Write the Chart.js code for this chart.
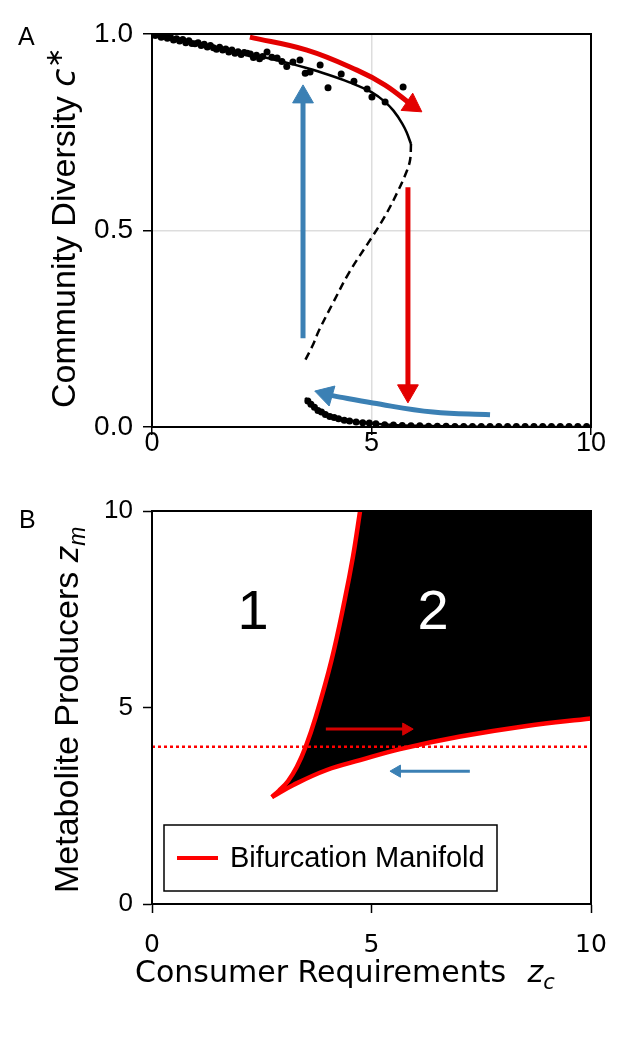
<!DOCTYPE html>
<html lang="en">
<head>
<meta charset="UTF-8">
<title>Community diversity bifurcation</title>
<style>
  body { margin: 0; background: #fff; }
  canvas { position: absolute; left: 0; }
  #chartA { top: 0; }
  #chartB { top: 470px; }
</style>
</head>
<body>
<canvas id="chartA" width="625" height="470"></canvas>
<canvas id="chartB" width="625" height="572"></canvas>
<script src="https://cdn.jsdelivr.net/npm/chart.js@4.4.1/dist/chart.umd.min.js"></script>
<script>
// ---- panel A: community diversity c* vs consumer requirement z_c ----
const upperZ = [0, 0.5, 1, 1.5, 2, 2.5, 3, 3.5, 4, 4.5, 5, 5.3, 5.5, 5.7, 5.8, 5.9];
const upperC = [1.0, 0.988, 0.977, 0.965, 0.954, 0.942, 0.929, 0.914, 0.897, 0.877, 0.852, 0.828, 0.805, 0.772, 0.75, 0.72];
const unstableZ = [5.9, 5.88, 5.8, 5.58, 5.3, 4.97, 4.5, 4.12, 3.8, 3.67, 3.49];
const unstableC = [0.72, 0.68, 0.65, 0.595, 0.535, 0.476, 0.395, 0.315, 0.245, 0.21, 0.17];
const lowerZ = [3.49, 3.6, 3.8, 4.0, 4.3, 4.7, 5.0, 5.5, 6, 7, 8, 10];
const lowerC = [0.074, 0.062, 0.042, 0.030, 0.021, 0.013, 0.009, 0.005, 0.003, 0.001, 0, 0];

// simulation dots
const simUpperZ = [0.00, 0.07, 0.14, 0.21, 0.28, 0.35, 0.42, 0.49, 0.56, 0.63, 0.70, 0.77, 0.84, 0.91, 0.98,
  1.05, 1.12, 1.19, 1.26, 1.33, 1.40, 1.47, 1.54, 1.61, 1.68, 1.75, 1.82, 1.89, 1.96, 2.03, 2.10, 2.17,
  2.24, 2.31, 2.38, 2.45, 2.52,
  2.62, 2.73, 2.85, 2.96, 3.07, 3.21, 3.37, 3.49, 3.60, 3.83, 4.01, 4.31, 4.60, 4.90, 5.01, 5.31, 5.72];
const simUpperC = [1.000, 0.996, 0.998, 0.992, 0.995, 0.989, 0.992, 0.985, 0.988, 0.982, 0.986, 0.978, 0.983, 0.976, 0.975,
  0.978, 0.971, 0.974, 0.967, 0.971, 0.965, 0.961, 0.966, 0.959, 0.962, 0.954, 0.959, 0.951, 0.955, 0.948, 0.953, 0.951,
  0.949, 0.940, 0.946, 0.937, 0.943,
  0.954, 0.941, 0.939, 0.930, 0.917, 0.929, 0.934, 0.900, 0.903, 0.921, 0.863, 0.898, 0.880, 0.860, 0.840, 0.827, 0.865];
const simLowerZ = [3.55, 3.62, 3.70, 3.78, 3.86, 3.95, 4.05, 4.15, 4.25, 4.38, 4.50, 4.65, 4.80, 4.95, 5.10, 5.30, 5.50, 5.70, 5.90,
  6.10, 6.30, 6.50, 6.70, 6.90, 7.10, 7.30, 7.50, 7.70, 7.90, 8.10, 8.30, 8.50, 8.70, 8.90, 9.10, 9.30, 9.50, 9.70, 9.90];
const simLowerC = [0.066, 0.058, 0.050, 0.042, 0.038, 0.032, 0.027, 0.024, 0.021, 0.017, 0.015, 0.013, 0.011, 0.010, 0.008, 0.006, 0.005, 0.004, 0.003,
  0.003, 0.002, 0.002, 0.002, 0.001, 0.001, 0.001, 0.001, 0.001, 0.001, 0.001, 0.001, 0.001, 0.001, 0.001, 0.001, 0.001, 0.001, 0.001, 0.001];

// hysteresis arrows (last point = arrow head)
const fwdCurveZ = [2.23, 3.53, 4.67, 5.31, 5.92];
const fwdCurveC = [0.992, 0.959, 0.908, 0.87, 0.819];
const fwdDropZ = [5.83, 5.83];
const fwdDropC = [0.61, 0.092];
const backCurveZ = [7.70, 6.40, 5.03, 4.28, 3.97];
const backCurveC = [0.031, 0.038, 0.061, 0.076, 0.083];
const backJumpZ = [3.44, 3.44];
const backJumpC = [0.226, 0.84];

const ticksZ = [0, 5, 10];
const ticksC = [0, 0.5, 1];

// ---- panel B: bifurcation manifold in (z_c, z_m) ----
const foldLeftZ = [2.73, 2.89, 3.10, 3.30, 3.50, 3.73, 4.09, 4.39, 4.58, 4.74];
const foldLeftM = [2.72, 2.88, 3.13, 3.49, 4.0, 4.76, 6.21, 7.74, 8.85, 10];
const foldLowZ = [2.73, 3.22, 3.98, 4.74, 5.65, 7.02, 8.53, 10];
const foldLowM = [2.72, 3.03, 3.41, 3.66, 3.94, 4.26, 4.53, 4.72];
const sweepM = 4;
const sweepUpZ = [3.96, 5.79];
const sweepUpM = [4.45, 4.45];
const sweepDownZ = [7.24, 5.58];
const sweepDownM = [3.38, 3.38];
const ticksM = [0, 5, 10];
const regionNames = ['1', '2'];
const regionZ = [2.3, 6.4];
const regionM = [7.4, 7.4];
const zMax = 10, mMax = 10;

const RED = '#ff0000', ARROW_RED = '#e30000', BLUE = '#3b80b4';
const SANS = '"Liberation Sans", Arial, Helvetica, sans-serif';
const DEJAVU = '"DejaVu Sans", sans-serif';

const pts = (xs, ys) => xs.map((x, i) => ({ x, y: ys[i] }));

function arrow(xs, ys, color, width, head, rot, tension) {
  const n = xs.length;
  return {
    data: pts(xs, ys), showLine: true, borderColor: color, borderWidth: width,
    tension: tension, borderCapStyle: 'butt',
    pointStyle: 'triangle', pointRotation: rot,
    pointRadius: xs.map((_, i) => i === n - 1 ? head : 0),
    pointBackgroundColor: color, pointBorderColor: color, pointBorderWidth: 1
  };
}

function richText(ctx, x, y, angle, parts) {
  ctx.save();
  ctx.translate(x, y);
  ctx.rotate(angle);
  ctx.textAlign = 'left';
  ctx.textBaseline = 'alphabetic';
  ctx.fillStyle = '#000';
  let cx = 0;
  for (const p of parts) {
    ctx.font = p.font;
    ctx.fillText(p.text, cx, p.dy || 0);
    cx += ctx.measureText(p.text).width + (p.gap || 0);
  }
  ctx.restore();
}

const framePlugin = {
  id: 'frame',
  afterDatasetsDraw(chart) {
    const { ctx, chartArea: a } = chart;
    ctx.save();
    ctx.strokeStyle = '#000';
    ctx.lineWidth = 2;
    ctx.strokeRect(a.left, a.top, a.right - a.left, a.bottom - a.top);
    ctx.restore();
  }
};

function axisCommon(min, max, list, fmt, font, pad) {
  return {
    type: 'linear', min, max,
    afterBuildTicks: s => { s.ticks = list.map(v => ({ value: v })); },
    ticks: { color: '#000', font: font, padding: pad, callback: fmt, maxRotation: 0 },
    border: { color: '#000', width: 2 }
  };
}

// ---------------- chart A ----------------
const textA = {
  id: 'textA',
  afterDraw(chart) {
    const ctx = chart.ctx;
    ctx.save();
    ctx.fillStyle = '#000';
    ctx.font = '25px ' + SANS;
    ctx.textBaseline = 'alphabetic';
    ctx.fillText('A', 18, 45);
    ctx.restore();
    richText(ctx, 75, 408, -Math.PI / 2, [
      { text: 'Community Diversity ', font: '34px ' + SANS },
      { text: 'c', font: 'italic 33px ' + DEJAVU, gap: 1 },
      { text: '\u2217', font: '24px ' + DEJAVU, dy: -13 }
    ]);
  }
};

new Chart(document.getElementById('chartA'), {
  type: 'scatter',
  data: {
    datasets: [
      arrow(backJumpZ, backJumpC, BLUE, 5, 12, 0, 0),
      arrow(fwdDropZ, fwdDropC, ARROW_RED, 5, 12, 180, 0),
      arrow(fwdCurveZ, fwdCurveC, ARROW_RED, 5, 12, 124, 0.4),
      arrow(backCurveZ, backCurveC, BLUE, 5, 12, -74, 0.4),
      { data: pts(simUpperZ, simUpperC), pointRadius: 3.5, pointBackgroundColor: '#000', pointBorderWidth: 0 },
      { data: pts(simLowerZ, simLowerC), pointRadius: 3.5, pointBackgroundColor: '#000', pointBorderWidth: 0 },
      { data: pts(upperZ, upperC), showLine: true, borderColor: '#000', borderWidth: 2.5, pointRadius: 0, cubicInterpolationMode: 'monotone' },
      { data: pts(unstableZ, unstableC), showLine: true, borderColor: '#000', borderWidth: 2.5, pointRadius: 0, tension: 0.35, borderDash: [8, 5] },
      { data: pts(lowerZ, lowerC), showLine: true, borderColor: '#000', borderWidth: 2.5, pointRadius: 0, cubicInterpolationMode: 'monotone' }
    ]
  },
  options: {
    responsive: false, animation: false, events: [],
    layout: { padding: { top: 34, right: 34, left: 0, bottom: 0 } },
    plugins: { legend: { display: false }, tooltip: { enabled: false } },
    scales: {
      x: Object.assign(axisCommon(0, 10, ticksZ, v => String(v), { family: SANS, size: 27 }, -8), {
        grid: { color: '#dddddd', lineWidth: 1.5, tickColor: '#000', tickLength: 8, tickWidth: 1.5 },
        afterFit: s => { s.height = 43; }
      }),
      y: Object.assign(axisCommon(0, 1, ticksC, v => v.toFixed(1), { family: SANS, size: 28 }, 10), {
        grid: { color: '#dddddd', lineWidth: 1.5, tickColor: '#000', tickLength: 9, tickWidth: 1.5 },
        afterFit: s => { s.width = 152; }
      })
    }
  },
  plugins: [framePlugin, textA]
});

// ---------------- chart B ----------------
const textB = {
  id: 'textB',
  afterDraw(chart) {
    const { ctx, chartArea: a, scales } = chart;
    ctx.save();
    ctx.textAlign = 'center';
    ctx.textBaseline = 'middle';
    ctx.font = '56px ' + SANS;
    regionNames.forEach((t, i) => {
      ctx.fillStyle = i === 0 ? '#000' : '#fff';
      ctx.fillText(t, scales.x.getPixelForValue(regionZ[i]), scales.y.getPixelForValue(regionM[i]));
    });
    // legend box
    const lx = a.left + 12, ly = a.bottom - 79;
    ctx.fillStyle = '#fff';
    ctx.fillRect(lx, ly, 333, 66);
    ctx.strokeStyle = '#000';
    ctx.lineWidth = 1.5;
    ctx.strokeRect(lx, ly, 333, 66);
    ctx.strokeStyle = RED;
    ctx.lineWidth = 4;
    ctx.beginPath();
    ctx.moveTo(lx + 13, ly + 33);
    ctx.lineTo(lx + 54, ly + 33);
    ctx.stroke();
    ctx.fillStyle = '#000';
    ctx.textAlign = 'left';
    ctx.font = '29px ' + SANS;
    ctx.fillText('Bifurcation Manifold', lx + 66, ly + 34);
    ctx.font = '25px ' + SANS;
    ctx.textBaseline = 'alphabetic';
    ctx.fillText('B', 19, 58);
    ctx.restore();
    richText(ctx, 78, 423, -Math.PI / 2, [
      { text: 'Metabolite Producers ', font: '34px ' + SANS },
      { text: 'z', font: 'italic 33px ' + SANS },
      { text: 'm', font: 'italic 23px ' + SANS, dy: 7 }
    ]);
    richText(ctx, 135, 512, 0, [
      { text: 'Consumer Requirements ', font: '30px ' + DEJAVU, gap: 12 },
      { text: 'z', font: 'italic 30px ' + DEJAVU },
      { text: 'c', font: 'italic 21px ' + DEJAVU, dy: 7 }
    ]);
  }
};

// closed outline of the bistable region: up the left fold, across the top, back along the lower fold
const regionOutline = pts(foldLeftZ.concat([zMax]), foldLeftM.concat([mMax]))
  .concat(pts(foldLowZ, foldLowM).reverse());

new Chart(document.getElementById('chartB'), {
  type: 'scatter',
  data: {
    datasets: [
      { data: pts([0, zMax], [sweepM, sweepM]), showLine: true, borderColor: RED, borderWidth: 2.5, borderDash: [3, 3], pointRadius: 0 },
      arrow(sweepUpZ, sweepUpM, '#d40000', 3, 7, 90, 0),
      arrow(sweepDownZ, sweepDownM, BLUE, 3, 7, -90, 0),
      { data: pts(foldLeftZ, foldLeftM), showLine: true, borderColor: RED, borderWidth: 4.5, pointRadius: 0, tension: 0.4 },
      { data: pts(foldLowZ, foldLowM), showLine: true, borderColor: RED, borderWidth: 4.5, pointRadius: 0, tension: 0.4 },
      { data: regionOutline, showLine: true, borderColor: 'rgba(0,0,0,0)', borderWidth: 1, pointRadius: 0,
        tension: 0, fill: 'shape', backgroundColor: '#000' }
    ]
  },
  options: {
    responsive: false, animation: false, events: [],
    layout: { padding: { top: 41, right: 34, left: 0, bottom: 0 } },
    plugins: { legend: { display: false }, tooltip: { enabled: false } },
    scales: {
      x: Object.assign(axisCommon(0, zMax, ticksZ, v => String(v), { family: DEJAVU, size: 25 }, 17), {
        grid: { drawOnChartArea: false, tickColor: '#000', tickLength: 9, tickWidth: 1.5 },
        afterFit: s => { s.height = 138; }
      }),
      y: Object.assign(axisCommon(0, mMax, ticksM, v => String(v), { family: SANS, size: 26 }, 10), {
        grid: { drawOnChartArea: false, tickColor: '#000', tickLength: 9, tickWidth: 1.5 },
        afterFit: s => { s.width = 152; }
      })
    }
  },
  plugins: [framePlugin, textB]
});
</script>
</body>
</html>
